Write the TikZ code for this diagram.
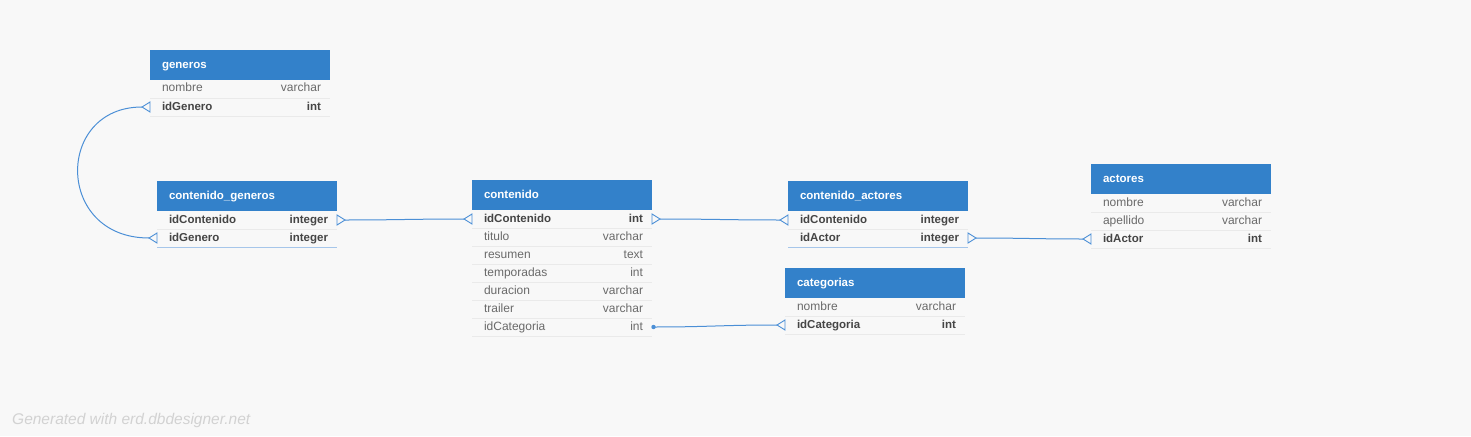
\documentclass[tikz,border=0pt]{standalone}
\usepackage{fontspec}
\setmainfont{Liberation Sans}
\usetikzlibrary{calc}
\definecolor{bg}{HTML}{F8F8F8}
\definecolor{hdr}{HTML}{3381CA}
\definecolor{txt}{HTML}{6A6A6A}
\definecolor{txtb}{HTML}{454545}
\definecolor{sepc}{HTML}{EAEAEA}
\definecolor{lnk}{HTML}{4B8FD6}
\definecolor{sepb}{HTML}{A6C6EA}
\definecolor{wm}{HTML}{D2D2D2}
\newcommand{\rw}[2]{\hbox to 180pt{\hspace{12pt}#1\hfill #2\hspace{9pt}}}
\newcommand{\crowL}[1]{\draw[mk] ($(#1.west)+(0,-5)$) -- ($(#1.west)+(-8,0)$) -- ($(#1.west)+(0,5)$) -- cycle;}
\newcommand{\crowR}[1]{\draw[mk] ($(#1.east)+(0,-5)$) -- ($(#1.east)+(8,0)$) -- ($(#1.east)+(0,5)$) -- cycle;}
\begin{document}
\begin{tikzpicture}[x=1pt,y=-1pt,
  hdrbox/.style={anchor=north west, outer sep=0pt, fill=hdr, text=white, minimum width=180pt, minimum height=30pt, inner xsep=12pt, inner ysep=0pt, text width=156pt, align=left, text height=8.5pt, text depth=2.5pt, font=\fontsize{11.5}{13}\selectfont\bfseries},
  rowbox/.style={anchor=north west, outer sep=0pt, inner sep=0pt, minimum height=18pt, text height=8.8pt, text depth=2.8pt, text=txt, font=\fontsize{12}{14}\selectfont, append after command={(\tikzlastnode.south west) edge[draw=sepc, line width=0.8pt] (\tikzlastnode.south east)}},
  keyrow/.style={rowbox, text=txtb, font=\fontsize{11.5}{14}\selectfont\bfseries},
  lastblue/.style={append after command={(\tikzlastnode.south west) edge[draw=sepb, line width=1pt] (\tikzlastnode.south east)}},
  mk/.style={draw=lnk, line width=0.9pt, line join=miter},
  link/.style={draw=lnk, line width=1pt}]
\fill[bg] (0,0) rectangle (1471,436);
\useasboundingbox (0,0) rectangle (1471,436);

% generos
\node[hdrbox] (generos) at (150,50) {generos};
\node[rowbox] (gen-nombre) at (generos.south west) {\rw{nombre}{varchar}};
\node[keyrow] (gen-idGenero) at (gen-nombre.south west) {\rw{idGenero}{int}};

% contenido_generos
\node[hdrbox] (cg) at (157,181) {contenido\_generos};
\node[keyrow] (cg-idContenido) at (cg.south west) {\rw{idContenido}{integer}};
\node[keyrow, lastblue] (cg-idGenero) at (cg-idContenido.south west) {\rw{idGenero}{integer}};

% contenido
\node[hdrbox] (cont) at (472,180) {contenido};
\node[keyrow] (cont-idContenido) at (cont.south west) {\rw{idContenido}{int}};
\node[rowbox] (cont-titulo) at (cont-idContenido.south west) {\rw{titulo}{varchar}};
\node[rowbox] (cont-resumen) at (cont-titulo.south west) {\rw{resumen}{text}};
\node[rowbox] (cont-temporadas) at (cont-resumen.south west) {\rw{temporadas}{int}};
\node[rowbox] (cont-duracion) at (cont-temporadas.south west) {\rw{duracion}{varchar}};
\node[rowbox] (cont-trailer) at (cont-duracion.south west) {\rw{trailer}{varchar}};
\node[rowbox] (cont-idCategoria) at (cont-trailer.south west) {\rw{idCategoria}{int}};

% contenido_actores
\node[hdrbox] (ca) at (788,181) {contenido\_actores};
\node[keyrow] (ca-idContenido) at (ca.south west) {\rw{idContenido}{integer}};
\node[keyrow, lastblue] (ca-idActor) at (ca-idContenido.south west) {\rw{idActor}{integer}};

% categorias
\node[hdrbox] (cat) at (785,268) {categorias};
\node[rowbox] (cat-nombre) at (cat.south west) {\rw{nombre}{varchar}};
\node[keyrow] (cat-idCategoria) at (cat-nombre.south west) {\rw{idCategoria}{int}};

% actores
\node[hdrbox] (act) at (1091,164) {actores};
\node[rowbox] (act-nombre) at (act.south west) {\rw{nombre}{varchar}};
\node[rowbox] (act-apellido) at (act-nombre.south west) {\rw{apellido}{varchar}};
\node[keyrow] (act-idActor) at (act-apellido.south west) {\rw{idActor}{int}};

% markers
\crowL{gen-idGenero}
\crowL{cg-idGenero}
\crowR{cg-idContenido}
\crowL{cont-idContenido}
\crowR{cont-idContenido}
\crowL{ca-idContenido}
\crowR{ca-idActor}
\crowL{act-idActor}
\crowL{cat-idCategoria}
\fill[lnk] ($(cont-idCategoria.east)+(1.5,0)$) circle (2.2pt);

% tip coordinates
\coordinate (t-gen) at ($(gen-idGenero.west)+(-8,0)$);
\coordinate (t-cgG) at ($(cg-idGenero.west)+(-8,0)$);
\coordinate (t-cgC) at ($(cg-idContenido.east)+(8,0)$);
\coordinate (t-contL) at ($(cont-idContenido.west)+(-8,0)$);
\coordinate (t-contR) at ($(cont-idContenido.east)+(8,0)$);
\coordinate (t-caL) at ($(ca-idContenido.west)+(-8,0)$);
\coordinate (t-caR) at ($(ca-idActor.east)+(8,0)$);
\coordinate (t-act) at ($(act-idActor.west)+(-8,0)$);
\coordinate (t-catg) at ($(cont-idCategoria.east)+(1.5,0)$);
\coordinate (t-cat) at ($(cat-idCategoria.west)+(-8,0)$);

% connectors
\draw[link] (t-gen) .. controls (55,107) and (55,238) .. (t-cgG);
\draw[link] (t-cgC) .. controls ($(t-cgC)+(50,0)$) and ($(t-contL)+(-50,0)$) .. (t-contL);
\draw[link] (t-contR) .. controls ($(t-contR)+(50,0)$) and ($(t-caL)+(-50,0)$) .. (t-caL);
\draw[link] (t-caR) .. controls ($(t-caR)+(45,0)$) and ($(t-act)+(-45,0)$) .. (t-act);
\draw[link] (t-catg) .. controls ($(t-catg)+(55,0)$) and ($(t-cat)+(-55,0)$) .. (t-cat);

% watermark
\node[anchor=west, text=wm, inner sep=0pt, font=\fontsize{15.5}{18}\selectfont\itshape] (wmark) at (12,420) {Generated with erd.dbdesigner.net};
\end{tikzpicture}
\end{document}
